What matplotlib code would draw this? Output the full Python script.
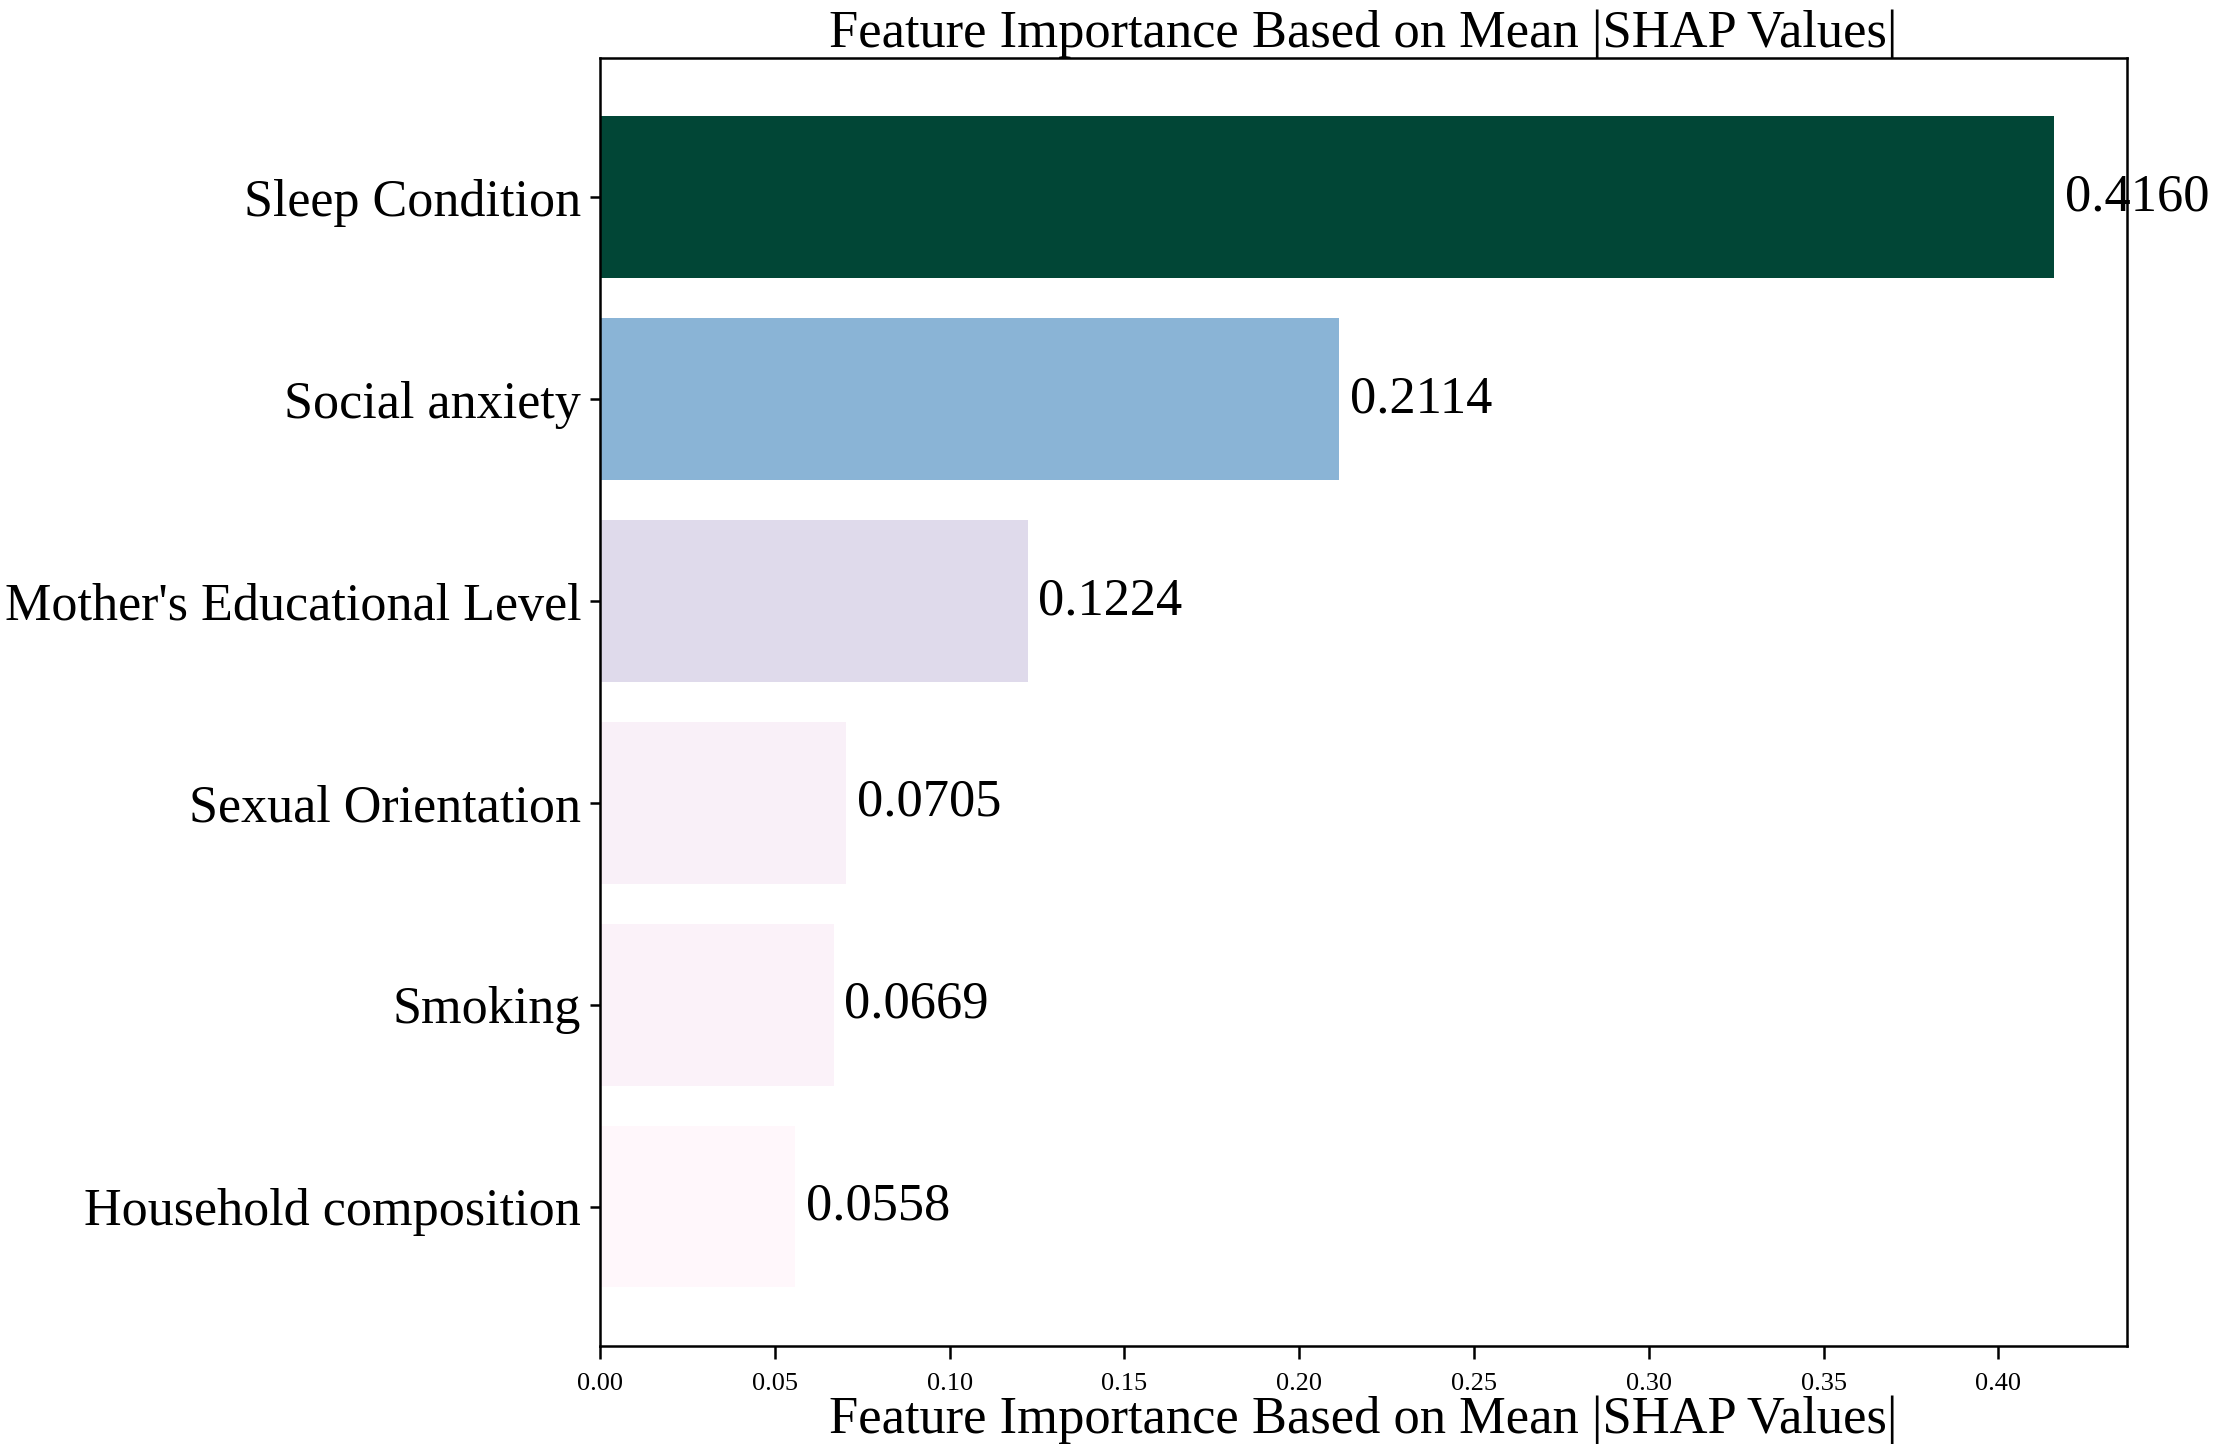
import numpy as np
import matplotlib.pyplot as plt
from matplotlib import cm
from matplotlib.colors import Normalize

features = ["Sleep Condition", "Social anxiety", "Mother's Educational Level",
            "Sexual Orientation", "Smoking", "Household composition"]
shap_means = [0.4160, 0.2114, 0.1224, 0.0705, 0.0669, 0.0558]

plt.rcParams['font.family'] = ['Liberation Serif', 'DejaVu Serif']

fig = plt.figure(figsize=(7.38, 4.837), dpi=300)
ax = fig.add_axes([0.271, 0.0724, 0.6897, 0.8876])

norm = Normalize(vmin=min(shap_means), vmax=max(shap_means))
colores = cm.PuBuGn(norm(np.array(shap_means)))

y = np.arange(len(features))
ax.barh(y, shap_means, height=0.8, color=colores)
ax.invert_yaxis()
ax.set_yticks(y)
ax.set_yticklabels(features, fontsize=12.5)

for i, v in enumerate(shap_means):
    ax.text(v + 0.003, i, f"{v:.4f}", va='center', ha='left', fontsize=12.6)

ax.tick_params(axis='x', labelsize=6.3, width=0.6, length=3)
ax.tick_params(axis='y', width=0.6, length=2.5, pad=2)
for s in ax.spines.values():
    s.set_linewidth(0.6)

ax.set_title('Feature Importance Based on Mean |SHAP Values|', fontsize=12.6, pad=2)
ax.set_xlabel('Feature Importance Based on Mean |SHAP Values|', fontsize=12.6, labelpad=0)

fig.savefig('out.png', dpi=300)
